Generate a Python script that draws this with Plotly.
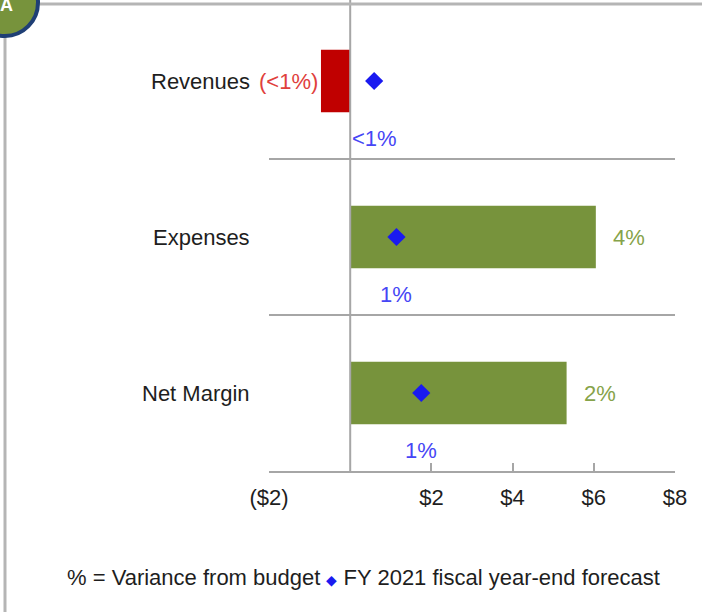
import plotly.graph_objects as go

categories = ["Revenues", "Expenses", "Net Margin"]
variance_values = [-0.72, 6.05, 5.33]          # $ variance from budget (bars)
variance_labels = ["(<1%)", "4%", "2%"]
forecast_values = [0.59, 1.14, 1.75]            # FY 2021 year-end forecast (diamonds)
forecast_labels = ["<1%", "1%", "1%"]
tick_values = [-2, 2, 4, 6, 8]
tick_labels = ["($2)", "$2", "$4", "$6", "$8"]

RED = "#C00000"
GREEN = "#77933C"
BLUE = "#1A1AF0"
BLUE_TXT = "#4646F5"
GRAY = "#A6A6A6"
FONT = "Liberation Sans, Arial, sans-serif"
FS = 22

W, H = 702, 612
ML, MR, MT, MB = 269, 27, 3, 141
PW, PH = W - ML - MR, H - MT - MB

def px(x):
    return (x - ML) / PW

def py(y):
    return (H - MB - y) / PH

bar_colors = [RED if v < 0 else GREEN for v in variance_values]

fig = go.Figure()
fig.add_trace(go.Bar(
    x=variance_values, y=categories, orientation="h",
    marker=dict(color=bar_colors, line=dict(width=0)),
    width=0.4, hoverinfo="skip", showlegend=False,
))
fig.add_trace(go.Scatter(
    x=forecast_values, y=categories, mode="markers",
    marker=dict(symbol="diamond", size=14, color=BLUE),
    hoverinfo="skip", showlegend=False,
))

annotations = []
for i, (cat, v, lab) in enumerate(zip(categories, variance_values, variance_labels)):
    col = "#E0403C" if v < 0 else "#86A34A"
    annotations.append(dict(
        x=v, y=cat, xref="x", yref="y", text=lab, showarrow=False,
        xanchor="right" if v < 0 else "left", xshift=-1 if v < 0 else 15,
        font=dict(family=FONT, size=FS, color=col),
    ))
for i, (f, lab) in enumerate(zip(forecast_values, forecast_labels)):
    annotations.append(dict(
        x=f, y=i + 0.37, xref="x", yref="y", text=lab, showarrow=False,
        xanchor="center", yanchor="middle",
        font=dict(family=FONT, size=FS, color=BLUE_TXT),
    ))
for i, cat in enumerate(categories):
    annotations.append(dict(
        x=tick_values[0], y=cat, xref="x", yref="y", text=cat, showarrow=False,
        xanchor="right", xshift=-17,
        font=dict(family=FONT, size=FS, color="#1E1E1E"),
    ))
# footnote legend
annotations.append(dict(
    x=px(363), y=py(577), xref="paper", yref="paper", showarrow=False,
    xanchor="center", yanchor="middle",
    text="% = Variance from budget <span style='color:" + BLUE + ";font-size:14px'>◆</span> FY 2021 fiscal year-end forecast",
    font=dict(family=FONT, size=FS, color="#1E1E1E"),
))
# badge letter
annotations.append(dict(
    x=px(6), y=py(5), xref="paper", yref="paper", showarrow=False,
    xanchor="center", yanchor="middle", text="<b>A</b>",
    font=dict(family=FONT, size=18, color="white"),
))

shapes = []
# separators between categories
for k in range(len(categories) - 1):
    shapes.append(dict(type="line", xref="x", yref="y", x0=tick_values[0], x1=tick_values[-1],
                       y0=k + 0.5, y1=k + 0.5, line=dict(color=GRAY, width=2), layer="below"))
# zero line
shapes.append(dict(type="line", xref="x", yref="paper", x0=0, x1=0, y0=0, y1=py(0),
                   line=dict(color=GRAY, width=2)))
# panel frame
shapes.append(dict(type="line", xref="paper", yref="paper", x0=px(36), x1=px(702), y0=py(4), y1=py(4),
                   line=dict(color="#B5B5B5", width=3)))
shapes.append(dict(type="line", xref="paper", yref="paper", x0=px(5), x1=px(5), y0=py(36), y1=py(612),
                   line=dict(color="#B5B5B5", width=3)))
# badge
shapes.append(dict(type="circle", xref="paper", yref="paper", x0=px(-28), x1=px(38), y0=py(-31), y1=py(36),
                   fillcolor="#77933C", line=dict(color="#1F3F75", width=4)))

fig.update_layout(
    width=W, height=H,
    margin=dict(l=ML, r=MR, t=MT, b=MB),
    paper_bgcolor="white", plot_bgcolor="white",
    bargap=0.6,
    xaxis=dict(
        range=[tick_values[0], tick_values[-1]], tickvals=tick_values, ticktext=tick_labels,
        showgrid=False, zeroline=False, showline=True, linecolor=GRAY, linewidth=2,
        ticks="inside", ticklen=8, tickwidth=2, tickcolor=GRAY,
        ticklabelstandoff=6,
        tickfont=dict(family=FONT, size=FS, color="#1E1E1E"),
        fixedrange=True,
    ),
    yaxis=dict(
        categoryorder="array", categoryarray=categories,
        range=[len(categories) - 0.5, -0.5],
        showgrid=False, zeroline=False, showline=False, showticklabels=False,
        fixedrange=True,
    ),
    annotations=annotations, shapes=shapes,
)

fig.write_html(
    "out.html",
    config={"displayModeBar": False},
    post_script="document.body.style.margin='0';document.body.style.overflow='hidden';",
)
